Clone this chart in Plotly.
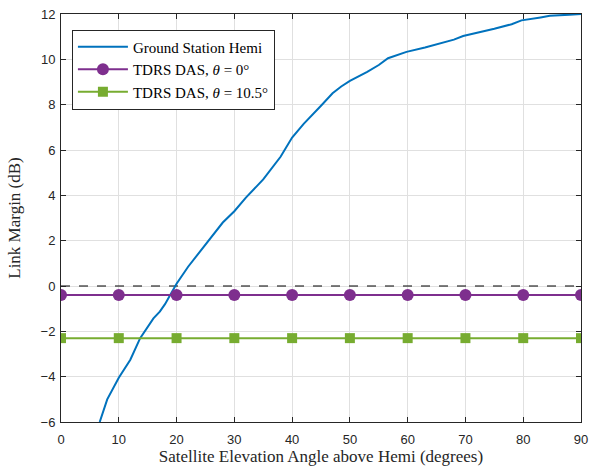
import plotly.graph_objects as go

# Data
gs_x = [6.7, 8, 10, 12, 13.7, 16, 17.1, 18, 18.9, 20, 22, 24.3, 26, 28, 30, 32, 35, 38, 40, 42, 45, 47, 48.5, 50, 53, 55, 56.6, 59.8, 63, 65, 68, 69.6, 73, 75, 78, 79.7, 83, 84.6, 88, 90]
gs_y = [-6.0, -5.0, -4.05, -3.25, -2.3, -1.43, -1.13, -0.8, -0.4, 0.1, 0.85, 1.6, 2.2, 2.8, 3.3, 3.9, 4.7, 5.7, 6.55, 7.15, 7.95, 8.5, 8.8, 9.05, 9.45, 9.75, 10.05, 10.33, 10.52, 10.65, 10.87, 11.03, 11.22, 11.35, 11.55, 11.72, 11.85, 11.92, 11.97, 12.0]

das_x = [0, 10, 20, 30, 40, 50, 60, 70, 80, 90]
das0_y = [-0.4] * 10
das105_y = [-2.3] * 10

x_ticks = [0, 10, 20, 30, 40, 50, 60, 70, 80, 90]
y_ticks = [-6, -4, -2, 0, 2, 4, 6, 8, 10, 12]

SERIF = "Liberation Serif"
SANS = "Liberation Sans"

fig = go.Figure()
fig.add_trace(go.Scatter(x=gs_x, y=gs_y, mode="lines", name="Ground Station Hemi",
                         line=dict(color="#0072BD", width=2)))
fig.add_trace(go.Scatter(x=das_x, y=das0_y, mode="lines+markers", name="TDRS DAS, <i>θ</i> = 0°",
                         line=dict(color="#7E2F8E", width=2),
                         marker=dict(symbol="circle", size=12, color="#7E2F8E")))
fig.add_trace(go.Scatter(x=das_x, y=das105_y, mode="lines+markers", name="TDRS DAS, <i>θ</i> = 10.5°",
                         line=dict(color="#77AC30", width=2),
                         marker=dict(symbol="square", size=10, color="#77AC30")))

fig.add_shape(type="line", xref="x", yref="y", x0=0, x1=90, y0=0, y1=0,
              line=dict(color="#000000", width=1, dash="dash"), layer="between")

axis_common = dict(showgrid=True, gridcolor="#E0E0E0", gridwidth=1, zeroline=False,
                   showline=True, linecolor="#262626", linewidth=1, mirror="ticks",
                   ticks="inside", ticklen=5, tickcolor="#262626", automargin=False,
                   tickfont=dict(family=SANS, size=13, color="#262626"))

fig.update_layout(
    width=589, height=472,
    margin=dict(l=61, r=8, t=14, b=50),
    paper_bgcolor="white", plot_bgcolor="white",
    font=dict(family=SERIF, size=15, color="#000000"),
    xaxis=dict(range=[0, 90], tickvals=x_ticks, ticklabelstandoff=5, **axis_common,
               title=dict(text="Satellite Elevation Angle above Hemi (degrees)", standoff=0,
                          font=dict(family=SERIF, size=17, color="#262626"))),
    yaxis=dict(range=[-6, 12], tickvals=y_ticks, ticklabelstandoff=2, **axis_common,
               title=dict(text="Link Margin (dB)",
                          font=dict(family=SERIF, size=17, color="#262626"))),
    legend=dict(x=0.021, y=0.962, xanchor="left", yanchor="top",
                bgcolor="white", bordercolor="#262626", borderwidth=1,
                font=dict(family=SERIF, size=15, color="#000000"),
                itemwidth=50, tracegroupgap=0),
    showlegend=True,
)

fig.write_html("out.html", config={"displayModeBar": False},
               post_script="document.body.style.margin='0';document.body.style.overflow='hidden';")
